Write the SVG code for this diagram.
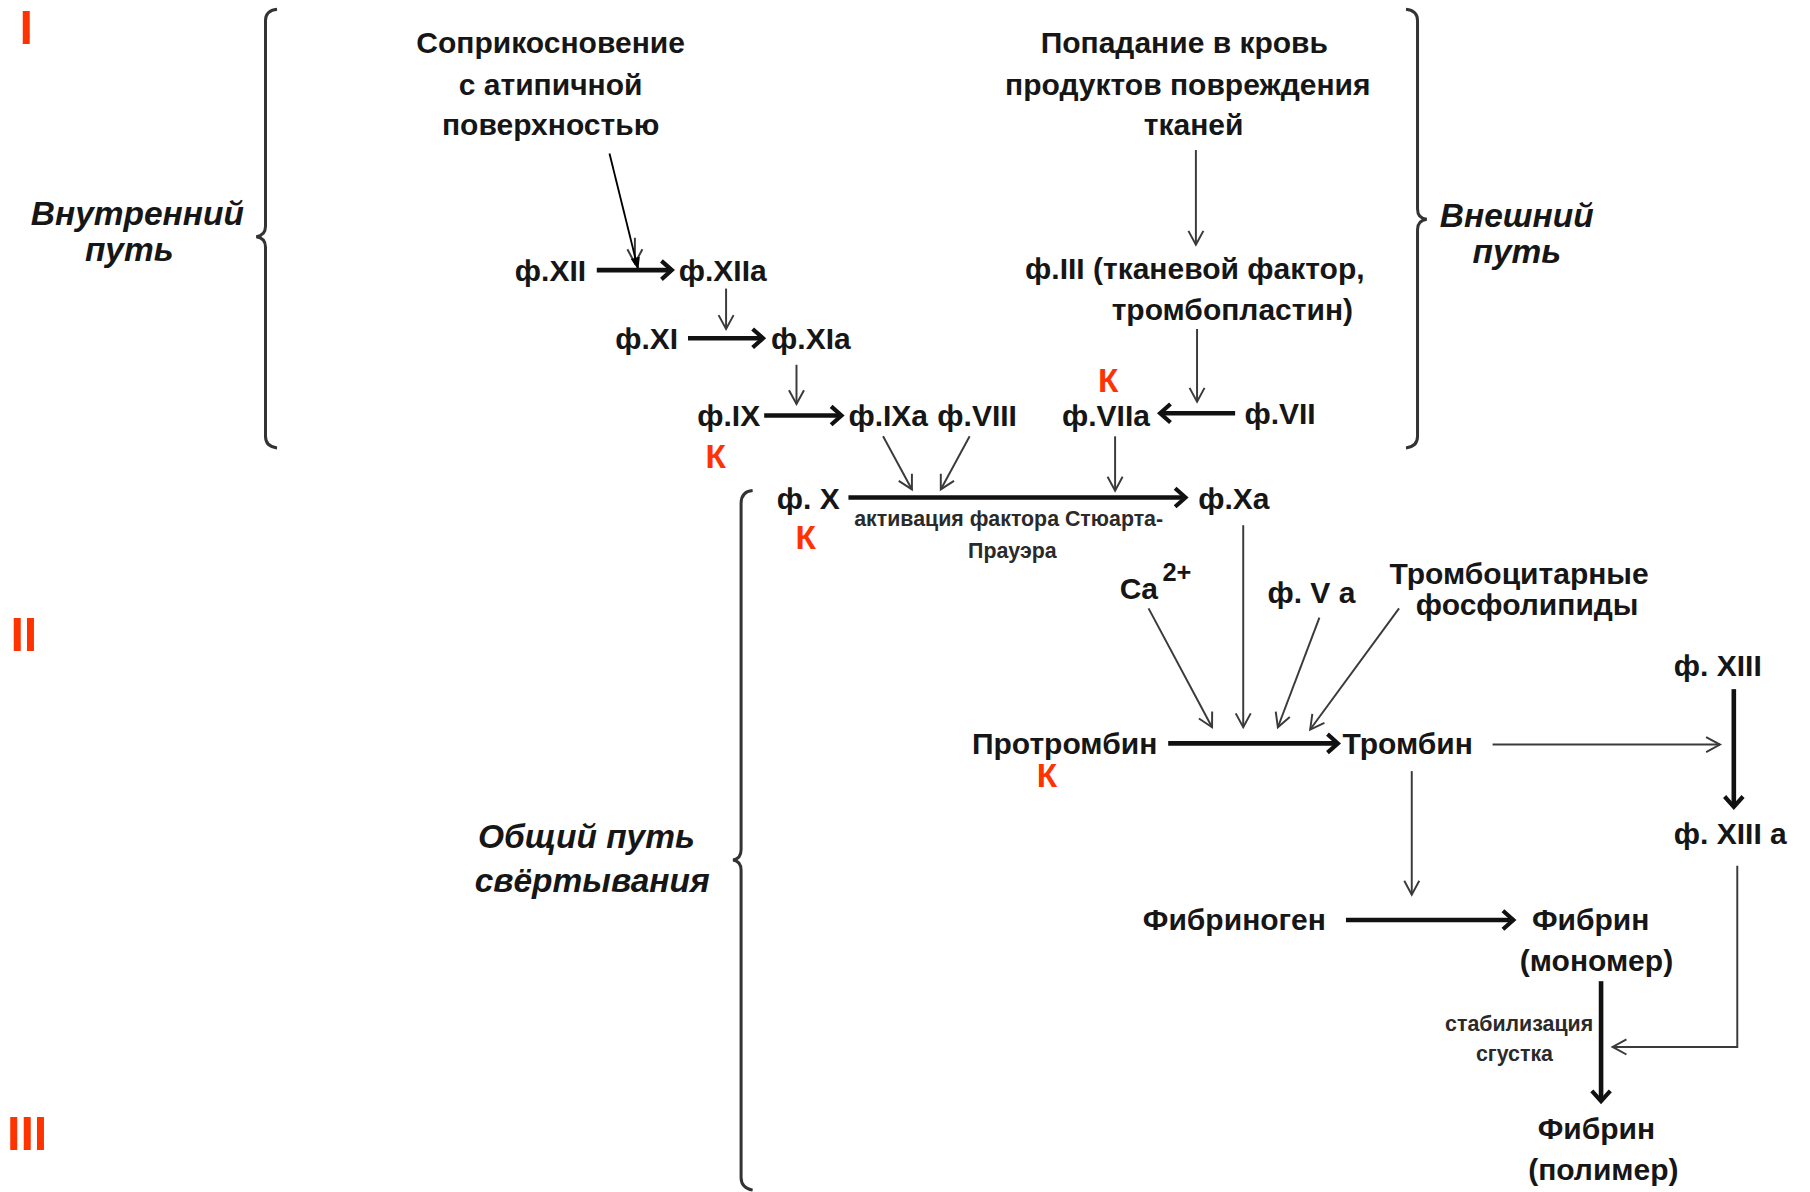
<svg xmlns="http://www.w3.org/2000/svg" width="1810" height="1192" viewBox="0 0 1810 1192">
<style>
text{font-family:"Liberation Sans",Arial,sans-serif;fill:#161616}
.t{font-size:26px;font-weight:bold}
.m{text-anchor:middle}
.i{font-size:29px;font-weight:bold;font-style:italic}
.s{font-size:18.5px;font-weight:bold;fill:#2a2a2a}
.k{font-size:29px;font-weight:bold;fill:#ff3300;text-anchor:middle}
.r{font-size:42px;font-weight:bold;fill:#ff3300}
.thick{stroke:#111;stroke-width:4;fill:none;marker-end:url(#hThick)}
.thin{stroke:#3a3a3a;stroke-width:1.7;fill:none;marker-end:url(#hThin)}
.brace{stroke:#333;stroke-width:2.6;fill:none}
</style>
<defs>
<marker id="hThick" markerUnits="userSpaceOnUse" viewBox="-14 -10 18 20" refX="0" refY="0" markerWidth="18" markerHeight="20" orient="auto" style="overflow:visible">
<path d="M-9,-8 L0,0 L-9,8" fill="none" stroke="#111" stroke-width="3.6"/>
</marker>
<marker id="hThin" markerUnits="userSpaceOnUse" viewBox="-14 -8 16 16" refX="0" refY="0" markerWidth="16" markerHeight="16" orient="auto" style="overflow:visible">
<path d="M-12,-6.5 L0,0 L-12,6.5" fill="none" stroke="#3a3a3a" stroke-width="1.7"/>
</marker>
<marker id="hFill" markerUnits="userSpaceOnUse" viewBox="-12 -5 13 10" refX="0" refY="0" markerWidth="13" markerHeight="10" orient="auto" style="overflow:visible">
<path d="M-11,-4 L0,0 L-11,4 Z" fill="#000"/>
</marker>
</defs>
<rect width="1810" height="1192" fill="#fff"/>
<g transform="scale(1.15434)">
<g id="roman">
<text class="r" x="17" y="38">I</text>
<text class="r" x="9" y="564">II</text>
<text class="r" x="6" y="996">III</text>
</g>
<g id="braces">
<path class="brace" d="M240,8 Q230,9 230,18 L230,196 Q230,204 222,205 Q230,206 230,214 L230,378 Q230,387 240,388"/>
<path class="brace" d="M1218,8 Q1228,9 1228,18 L1228,181 Q1228,189 1236,190 Q1228,191 1228,199 L1228,378 Q1228,387 1218,388"/>
<path class="brace" d="M652,425 Q642,426 642,436 L642,736 Q642,744 635,745 Q642,746 642,754 L642,1020 Q642,1029 652,1031"/>
</g>
<g id="labels">
<text class="i m" x="119" y="195">Внутренний</text>
<text class="i m" x="112" y="226">путь</text>
<text class="i m" x="1314" y="197">Внешний</text>
<text class="i m" x="1314" y="228">путь</text>
<text class="i m" x="508" y="735">Общий путь</text>
<text class="i m" x="513" y="773">свёртывания</text>
</g>
<g id="n-contact"><text class="t m" x="477" y="46">Соприкосновение</text><text class="t m" x="477" y="82">с атипичной</text><text class="t m" x="477" y="117">поверхностью</text></g>
<g id="n-tissue"><text class="t m" x="1026" y="46">Попадание в кровь</text><text class="t m" x="1029" y="82">продуктов повреждения</text><text class="t m" x="1034" y="117">тканей</text></g>
<g id="n-f12"><text class="t" x="446" y="243">ф.XII</text></g>
<g id="n-f12a"><text class="t" x="588" y="243">ф.XIIa</text></g>
<g id="n-f11"><text class="t" x="533" y="302">ф.XI</text></g>
<g id="n-f11a"><text class="t" x="668" y="302">ф.XIa</text></g>
<g id="n-f9"><text class="t" x="604" y="369">ф.IX</text><text class="k" x="620" y="405">К</text></g>
<g id="n-f9a"><text class="t" x="735" y="369">ф.IXa</text></g>
<g id="n-f8"><text class="t" x="812" y="369">ф.VIII</text></g>
<g id="n-f3"><text class="t" x="888" y="242">ф.III (тканевой фактор,</text><text class="t" x="963" y="277">тромбопластин)</text></g>
<g id="n-f7a"><text class="t" x="920" y="369">ф.VIIa</text><text class="k" x="960" y="340">К</text></g>
<g id="n-f7"><text class="t" x="1078" y="367">ф.VII</text></g>
<g id="n-f10"><text class="t" x="673" y="441">ф. X</text><text class="k" x="698" y="476">К</text></g>
<g id="n-f10a"><text class="t" x="1038" y="441">ф.Xa</text></g>
<g id="n-ca"><text class="t" x="970" y="519">Ca</text><text class="t" x="1007" y="503" style="font-size:22px">2+</text></g>
<g id="n-f5a"><text class="t" x="1098" y="522">ф. V a</text></g>
<g id="n-phosph"><text class="t m" x="1316" y="506">Тромбоцитарные</text><text class="t m" x="1323" y="533">фосфолипиды</text></g>
<g id="n-prothrombin"><text class="t" x="842" y="653">Протромбин</text><text class="k" x="907" y="682">К</text></g>
<g id="n-thrombin"><text class="t" x="1163" y="653">Тромбин</text></g>
<g id="n-f13"><text class="t" x="1450" y="586">ф. XIII</text></g>
<g id="n-f13a"><text class="t" x="1450" y="731">ф. XIII a</text></g>
<g id="n-fibrinogen"><text class="t" x="990" y="806">Фибриноген</text></g>
<g id="n-fibrin-mono"><text class="t m" x="1378" y="806">Фибрин</text><text class="t m" x="1383" y="841">(мономер)</text></g>
<g id="n-fibrin-poly"><text class="t m" x="1383" y="987">Фибрин</text><text class="t m" x="1389" y="1022">(полимер)</text></g>
<g id="connectors">
<line class="thin" x1="550" y1="206" x2="550" y2="228"/>
<line x1="528" y1="133" x2="553" y2="234" stroke="#000" stroke-width="1.6" marker-end="url(#hFill)"/>
<line class="thick" x1="517" y1="234" x2="582" y2="234"/>
<line class="thin" x1="629" y1="250" x2="629" y2="285"/>
<line class="thick" x1="596" y1="293" x2="661" y2="293"/>
<line class="thin" x1="690" y1="316" x2="690" y2="350"/>
<line class="thick" x1="662" y1="360" x2="729" y2="360"/>
<line class="thin" x1="1036" y1="130" x2="1036" y2="212"/>
<line class="thin" x1="1037" y1="285" x2="1037" y2="348"/>
<line class="thick" x1="1070" y1="358" x2="1005" y2="358"/>
<line class="thin" x1="966" y1="378" x2="966" y2="425"/>
<line class="thin" x1="765" y1="378" x2="790" y2="424"/>
<line class="thin" x1="840" y1="378" x2="815" y2="424"/>
<line class="thick" x1="735" y1="431" x2="1027" y2="431"/>
<line class="thin" x1="1077" y1="455" x2="1077" y2="630"/>
<line class="thin" x1="995" y1="527" x2="1050" y2="630"/>
<line class="thin" x1="1143" y1="535" x2="1107" y2="630"/>
<line class="thin" x1="1212" y1="527" x2="1135" y2="632"/>
<line class="thick" x1="1012" y1="644" x2="1159" y2="644"/>
<line class="thin" x1="1293" y1="645" x2="1490" y2="645"/>
<line class="thick" x1="1502" y1="597" x2="1502" y2="699"/>
<line class="thin" x1="1223" y1="668" x2="1223" y2="775"/>
<line class="thick" x1="1166" y1="797" x2="1311" y2="797"/>
<polyline class="thin" points="1505,750 1505,907 1397,907"/>
<line class="thick" x1="1387" y1="850" x2="1387" y2="954"/>
</g>
<g id="connector-labels">
<text class="s" x="740" y="456">активация фактора Стюарта-</text>
<text class="s m" x="877" y="483">Прауэра</text>
<text class="s m" x="1316" y="893">стабилизация</text>
<text class="s m" x="1312" y="919">сгустка</text>
</g>
</g>
</svg>
